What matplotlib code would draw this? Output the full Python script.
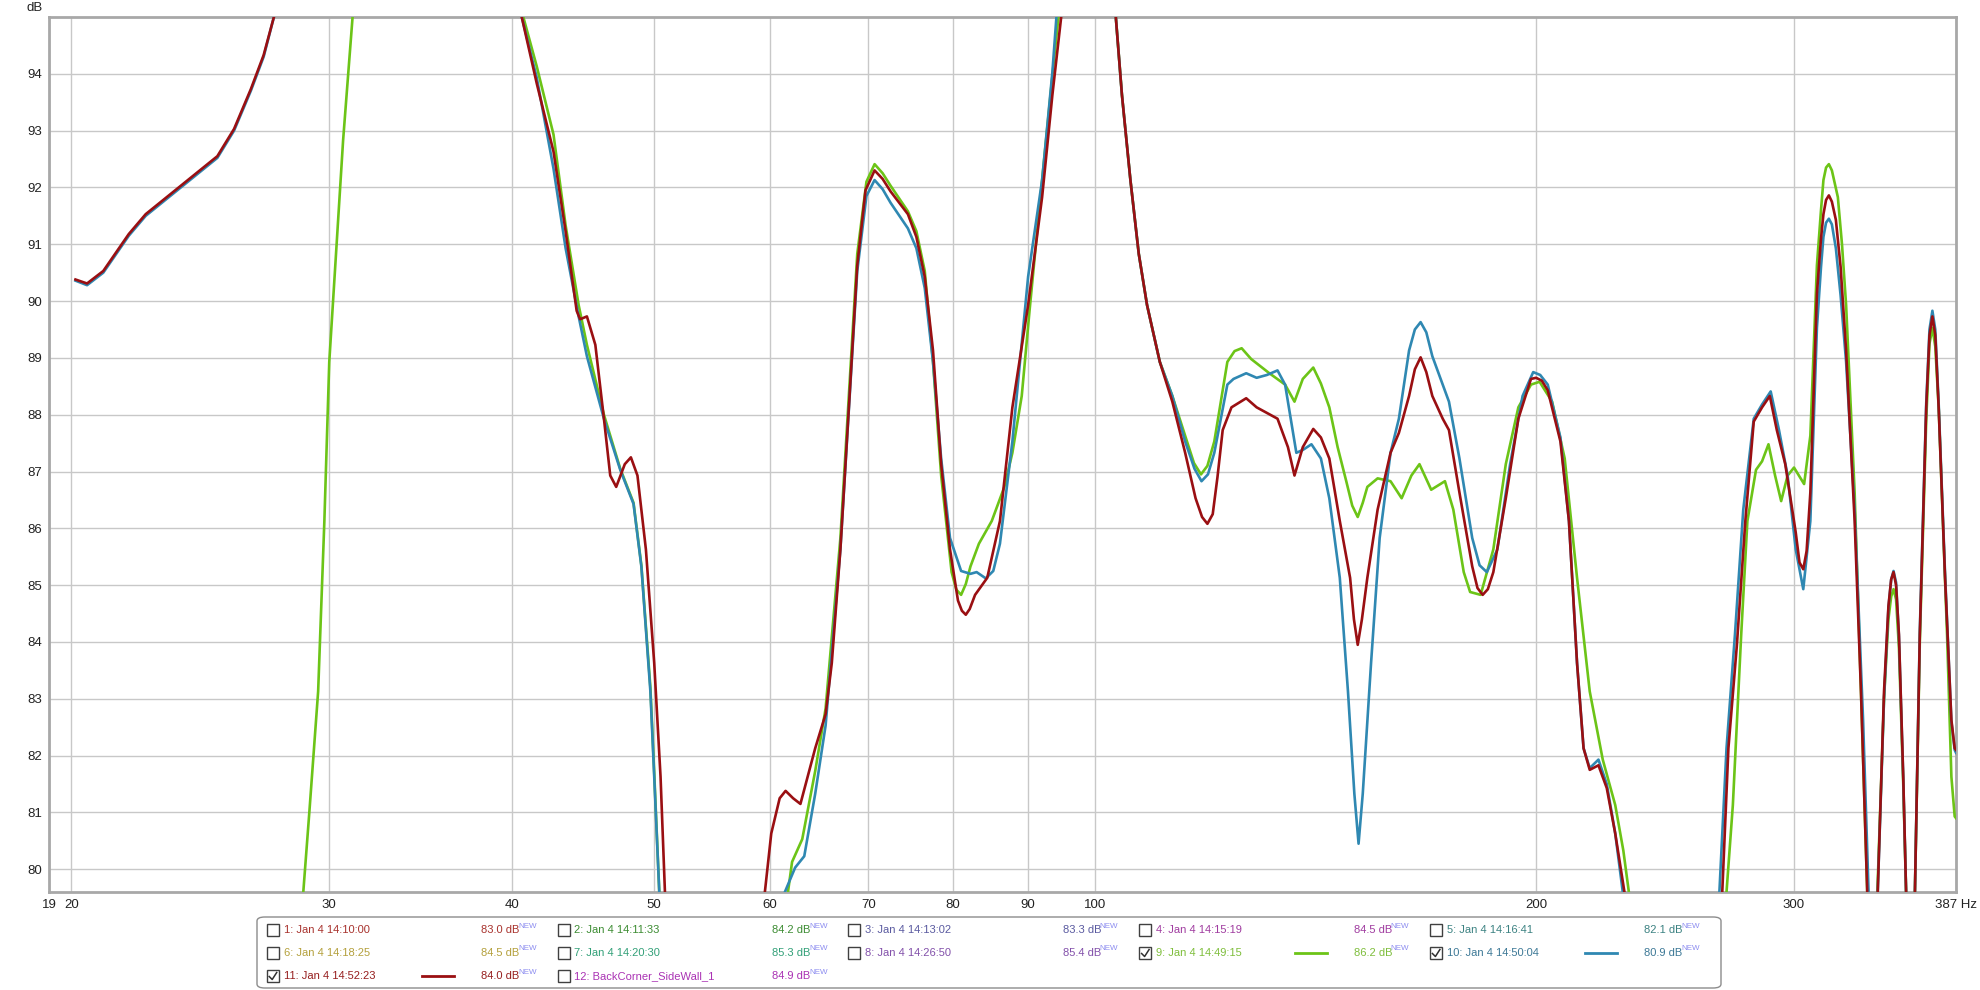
import matplotlib
matplotlib.use("Agg")
import matplotlib.pyplot as plt
from matplotlib.patches import Rectangle, FancyBboxPatch
from matplotlib.lines import Line2D
from matplotlib.ticker import FixedLocator, NullLocator, FixedFormatter

plt.rcParams['font.family'] = ['Liberation Sans', 'DejaVu Sans']

# ---------------- data ----------------
# 9: Jan 4 14:49:15 (green)
f9 = [28.5, 28.8, 29.08, 29.48, 29.77, 30.0, 30.37, 30.66, 31.12, 31.5, 40.0,
      40.7, 41.57, 42.68, 43.5, 44.4, 44.98, 46.2, 47.4, 48.4, 49.0, 49.7, 50.0, 50.4, 50.8,
      61.3, 61.7, 62.1, 63.1, 64.4, 65.46, 67.0, 68.8, 69.8, 70.7, 71.6, 72.5, 74.5, 75.5, 76.5, 77.5,
      78.5, 79.8, 80.4, 81.0, 81.6, 82.2, 83.3, 85.0, 86.7, 87.8, 89.1, 90.2, 92.0, 93.8, 94.4, 95.0, 102.0,
      103.3, 104.3, 105.7, 107.1, 108.5, 110.7, 112.9, 115.2, 116.8, 118.1, 119.3, 120.6, 123.1, 124.5, 125.9,
      127.8, 131.5, 134.8, 136.8, 138.6, 140.9, 142.6, 144.5, 146.4, 148.4, 149.8, 151.1, 152.3, 153.4,
      155.9, 159.1, 161.9, 164.4, 166.5, 169.6, 173.3, 175.6, 178.5, 180.3, 183.3, 187.0,
      190.7, 194.5, 198.4, 201.1, 205.1, 209.2, 213.3, 217.6, 222.1, 226.5, 229.4, 231.4,
      232.5, 268.5, 269.8, 272.5, 276.1, 278.8, 282.6, 285.3, 288.2, 291.2, 294.0, 297.0,
      300.0, 304.8, 307.8, 311.0, 313.0, 314.2, 315.5, 316.9, 318.4, 321.4, 323.5, 325.6, 330.0, 333.3, 336.6, 338.0,
      341.0, 342.0, 345.6, 348.0, 349.5, 350.8, 352.2, 353.8, 356.2, 357.8, 359.0, 361.5, 362.8, 365.6,
      369.3, 371.2, 372.9, 374.6, 376.6, 381.6, 384.2, 386.2, 387.0]
db9 = [78.0, 79.6, 81.03, 83.13, 86.13, 88.93, 91.13, 92.83, 95.0, 96.5, 97.0,
       95.0, 94.13, 92.93, 91.33, 89.93, 89.23, 88.0, 87.05, 86.45, 85.35, 83.2, 81.7, 79.6, 78.0,
       78.0, 79.6, 80.13, 80.53, 81.73, 82.83, 85.83, 90.83, 92.1, 92.41, 92.25, 92.03, 91.58, 91.23, 90.53, 88.93,
       86.93, 85.23, 84.92, 84.83, 85.02, 85.33, 85.73, 86.13, 86.73, 87.33, 88.33, 89.83, 92.13, 94.33, 95.0, 96.5, 97.0,
       95.0, 93.63, 92.13, 90.83, 89.93, 88.93, 88.33, 87.63, 87.15, 86.95, 87.1, 87.53, 88.93, 89.12, 89.17,
       88.98, 88.73, 88.53, 88.23, 88.63, 88.83, 88.55, 88.13, 87.43, 86.83, 86.4, 86.2, 86.45, 86.73,
       86.88, 86.83, 86.53, 86.93, 87.13, 86.68, 86.83, 86.33, 85.23, 84.88, 84.83, 85.63,
       87.13, 88.13, 88.53, 88.58, 88.23, 87.23, 85.13, 83.13, 81.93, 81.13, 80.33, 79.6,
       78.5, 78.5, 79.6, 81.13, 84.13, 86.13, 87.03, 87.18, 87.48, 86.93, 86.48, 86.93,
       87.07, 86.78, 87.63, 90.63, 91.6, 92.13, 92.35, 92.41, 92.3, 91.83, 91.0, 89.93, 86.63, 83.13, 79.6, 78.0,
       78.0, 79.6, 83.0, 84.4, 84.8, 84.93, 84.75, 83.9, 81.5, 79.6, 78.0, 78.0, 79.6, 84.0,
       87.9, 89.25, 89.53, 89.2, 88.13, 84.13, 81.63, 80.93, 80.9]

# 10: Jan 4 14:50:04 (blue)
f10 = [20.13, 20.5, 21.03, 21.89, 22.48, 23.24, 24.02, 25.16, 25.83, 26.52, 27.06, 27.5, 29.0, 40.0,
       40.6, 41.57, 42.68, 43.5, 44.4, 44.98, 46.2, 47.4, 48.4, 49.0, 49.7, 50.0, 50.4, 50.8,
       61.0, 61.4, 62.4, 63.3, 64.4, 65.46, 67.0, 68.8, 69.8, 70.7, 71.6, 72.5, 74.5, 75.5, 76.5, 77.5, 78.5,
       79.6, 81.0, 82.2, 83.0, 84.2, 85.2, 86.1, 87.8, 90.0, 92.0, 93.5, 94.1, 95.0, 102.0,
       103.3, 104.3, 105.7, 107.1, 108.5, 110.7, 112.9, 115.2, 116.9, 118.2, 119.4, 120.6, 123.1, 124.3,
       126.8, 128.9, 131.0, 133.2, 134.8, 137.2, 138.6, 140.5, 142.6, 144.5, 146.9, 148.8,
       150.3, 151.3, 152.3, 154.3, 156.4, 159.1, 161.2, 163.8, 165.3, 166.8, 168.3, 169.9, 172.7, 174.4,
       177.3, 180.9, 183.0, 185.1, 188.2, 192.0, 195.8, 199.1, 201.3, 203.7, 207.8, 210.6, 213.3, 215.5,
       217.6, 220.6, 223.5, 226.5, 229.2, 230.5, 265.5, 266.8, 269.8, 273.4, 277.0, 281.6,
       285.3, 289.2, 293.0, 297.0, 300.8, 304.4, 307.8, 311.0, 313.0, 314.2, 315.5, 316.9, 318.4, 320.4, 322.8, 325.6,
       330.0, 334.4, 337.3, 338.5, 341.0, 342.2, 345.6, 348.0, 349.5, 350.8, 352.2, 353.8, 356.2, 357.8,
       359.0, 361.5, 362.8, 365.6, 369.3, 371.2, 372.9, 374.6, 376.6, 380.4, 384.2, 386.2, 387.0]
db10 = [90.36, 90.28, 90.5, 91.15, 91.5, 91.8, 92.1, 92.52, 93.0, 93.7, 94.3, 95.0, 97.0, 96.0,
        95.0, 93.93, 92.33, 90.93, 89.73, 89.03, 87.93, 87.03, 86.43, 85.33, 83.13, 81.63, 79.6, 78.0,
        78.0, 79.6, 80.03, 80.23, 81.33, 82.53, 85.63, 90.53, 91.85, 92.13, 91.97, 91.73, 91.28, 90.93, 90.23, 88.93, 87.23,
        85.83, 85.25, 85.2, 85.23, 85.12, 85.25, 85.73, 87.53, 90.43, 92.13, 94.03, 95.0, 96.5, 97.0,
        95.0, 93.63, 92.13, 90.83, 89.93, 88.93, 88.33, 87.53, 87.05, 86.83, 86.95, 87.33, 88.53, 88.63,
        88.73, 88.65, 88.7, 88.78, 88.53, 87.33, 87.38, 87.48, 87.23, 86.53, 85.13, 83.13,
        81.33, 80.45, 81.33, 83.63, 85.83, 87.33, 87.93, 89.13, 89.5, 89.63, 89.45, 89.03, 88.53, 88.23,
        87.23, 85.83, 85.35, 85.23, 85.63, 87.13, 88.33, 88.75, 88.7, 88.53, 87.6, 86.13, 83.63, 82.13,
        81.78, 81.93, 81.5, 80.63, 79.6, 78.5, 78.5, 79.6, 82.13, 84.13, 86.33, 87.93,
        88.18, 88.41, 87.73, 86.93, 85.63, 84.93, 86.13, 89.53, 90.6, 91.13, 91.38, 91.45, 91.35, 90.93, 90.1, 88.93,
        86.33, 82.63, 79.6, 78.0, 78.0, 79.6, 83.0, 84.6, 85.1, 85.25, 85.05, 84.1, 81.6, 79.6,
        78.0, 78.0, 79.6, 84.2, 88.2, 89.5, 89.83, 89.5, 88.2, 85.2, 82.6, 82.1, 82.05]

# 11: Jan 4 14:52:23 (dark red)
f11 = [20.13, 20.5, 21.03, 21.89, 22.48, 23.24, 24.02, 25.16, 25.83, 26.52, 27.06, 27.5, 29.0, 40.0,
       40.6, 41.57, 42.68, 43.5, 44.26, 44.5, 44.98, 45.58, 46.2, 46.66, 47.1, 47.74, 48.2, 48.7,
       49.35, 50.0, 50.5, 50.85, 51.2,
       59.0, 59.5, 60.1, 60.9, 61.47, 62.2, 62.92, 64.4, 65.46, 66.1, 67.0, 67.9, 68.8, 69.7, 70.7,
       71.6, 72.5, 74.5, 75.5, 76.5, 77.5, 78.5, 79.6, 80.6, 81.1, 81.6, 82.1, 82.8, 84.4, 86.1, 87.8, 90.0, 92.0,
       93.5, 94.8, 95.5, 102.0,
       103.3, 104.3, 105.7, 107.1, 108.5, 110.7, 112.9, 115.2, 117.1, 118.3, 119.3, 120.3, 121.2, 122.2, 123.9,
       126.8, 128.9, 133.2, 135.4, 136.8, 138.6, 140.9, 142.6, 144.5, 146.9, 149.3, 150.2, 151.1, 152.1, 153.4,
       155.9, 159.1, 161.2, 163.8, 165.3, 166.8, 168.3, 169.9, 172.7, 174.4, 177.3, 180.9, 182.4, 183.9, 185.4, 187.0, 190.7,
       194.5, 198.4, 200.0, 201.8, 203.7, 207.8, 210.6, 213.3, 215.5, 217.6, 220.6, 223.5, 226.5, 229.8,
       231.0, 266.0, 268.0, 270.6, 274.2, 277.9, 281.6, 285.3, 288.8, 292.0, 295.9, 300.8, 302.6, 304.4, 306.0,
       307.8, 311.0, 313.0, 314.2, 315.5, 316.9, 318.4, 320.4, 322.8, 325.6, 330.0, 333.3, 336.6, 338.0, 341.0, 342.2, 345.6,
       348.0, 349.5, 350.8, 352.2, 353.8, 356.2, 357.8, 359.0, 361.5, 362.8, 365.6, 369.3, 371.2, 372.9, 374.6, 376.6, 380.4,
       384.2, 386.2, 387.0]
db11 = [90.38, 90.31, 90.53, 91.18, 91.53, 91.83, 92.13, 92.55, 93.03, 93.73, 94.33, 95.0, 97.0, 96.0,
        95.0, 93.83, 92.63, 91.23, 89.83, 89.68, 89.73, 89.23, 87.93, 86.93, 86.73, 87.13, 87.25, 86.93,
        85.63, 83.63, 81.63, 79.6, 78.0,
        78.0, 79.6, 80.63, 81.25, 81.38, 81.25, 81.15, 82.13, 82.73, 83.63, 85.63, 88.13, 90.63, 91.95, 92.3,
        92.15, 91.93, 91.53, 91.13, 90.43, 89.13, 87.13, 85.63, 84.73, 84.55, 84.48, 84.58, 84.83, 85.13, 86.13, 88.13, 89.93, 91.83,
        93.63, 95.0, 96.0, 97.0,
        95.0, 93.63, 92.13, 90.83, 89.93, 88.93, 88.23, 87.33, 86.53, 86.2, 86.08, 86.25, 86.9, 87.73, 88.13,
        88.29, 88.13, 87.93, 87.43, 86.93, 87.43, 87.75, 87.6, 87.23, 86.13, 85.13, 84.4, 83.95, 84.4, 85.13,
        86.33, 87.33, 87.68, 88.33, 88.8, 89.01, 88.75, 88.33, 87.93, 87.73, 86.63, 85.33, 84.95, 84.83, 84.93, 85.23, 86.53,
        87.93, 88.63, 88.65, 88.6, 88.43, 87.53, 86.13, 83.63, 82.13, 81.75, 81.83, 81.43, 80.63, 79.6,
        78.5, 78.5, 79.6, 82.13, 83.93, 86.13, 87.88, 88.13, 88.33, 87.73, 87.13, 85.93, 85.4, 85.28, 85.6,
        86.63, 90.13, 91.1, 91.53, 91.78, 91.86, 91.75, 91.43, 90.6, 89.13, 86.13, 83.13, 79.6, 78.0, 78.0, 79.6, 83.13,
        84.63, 85.1, 85.23, 85.0, 84.13, 81.63, 79.6, 78.0, 78.0, 79.6, 84.13, 88.13, 89.4, 89.73, 89.4, 88.13, 85.13,
        82.63, 82.13, 82.1]

# legend entries
leg_labels = ["1: Jan 4 14:10:00", "2: Jan 4 14:11:33", "3: Jan 4 14:13:02", "4: Jan 4 14:15:19",
              "5: Jan 4 14:16:41", "6: Jan 4 14:18:25", "7: Jan 4 14:20:30", "8: Jan 4 14:26:50",
              "9: Jan 4 14:49:15", "10: Jan 4 14:50:04", "11: Jan 4 14:52:23",
              "12: BackCorner_SideWall_1"]
leg_values = ["83.0", "84.2", "83.3", "84.5", "82.1", "84.5", "85.3", "85.4", "86.2", "80.9",
              "84.0", "84.9"]
leg_colors = ["#a8322d", "#3c8c32", "#5a5aa0", "#a03ca0", "#3c8282", "#b4a03c", "#32a078",
              "#8250aa", "#7fbe3c", "#3c7896", "#961e1e", "#aa32b4"]
leg_checked = [False, False, False, False, False, False, False, False, True, True, True, False]

curve_colors = {"9": "#6cc417", "10": "#2f88b2", "11": "#9a0f12"}

x_ticks = [19.31, 20, 30, 40, 50, 60, 70, 80, 90, 100, 200, 300, 387]
x_ticklabels = ["19", "20", "30", "40", "50", "60", "70", "80", "90", "100", "200", "300", "387 Hz"]
y_ticks = list(range(80, 95))

# ---------------- figure ----------------
W, H = 1980, 990
fig = plt.figure(figsize=(W / 100, H / 100), dpi=100)
fig.patch.set_facecolor("white")

def fx(x):
    return x / W

def fy(y):
    return 1 - y / H

L, R, T, B = 49, 1956, 17, 892
ax = fig.add_axes([fx(L), fy(B), fx(R) - fx(L), fy(T) - fy(B)])
ax.set_xscale("log")
ax.set_xlim(19.31, 387)
ax.set_ylim(79.6, 95.0)

ax.plot(f9, db9, color=curve_colors["9"], lw=1.9, solid_joinstyle="round", zorder=3)
ax.plot(f10, db10, color=curve_colors["10"], lw=1.9, solid_joinstyle="round", zorder=4)
ax.plot(f11, db11, color=curve_colors["11"], lw=1.9, solid_joinstyle="round", zorder=5)

ax.xaxis.set_major_locator(FixedLocator(x_ticks))
ax.xaxis.set_major_formatter(FixedFormatter(x_ticklabels))
ax.xaxis.set_minor_locator(NullLocator())
ax.set_yticks(y_ticks)
ax.yaxis.set_minor_locator(NullLocator())
ax.grid(True, which="major", color="#c8c8c8", lw=1.0, zorder=0)
ax.set_axisbelow(True)
ax.tick_params(axis="both", length=0, labelsize=9.5, colors="#222222")
ax.tick_params(axis="x", pad=5)
ax.tick_params(axis="y", pad=5)
for s in ax.spines.values():
    s.set_color("#a8a8a8")
    s.set_linewidth(2.0)

fig.text(fx(35), fy(8), "dB", ha="center", va="center", fontsize=9.5, color="#222222")

# ---------------- legend box ----------------
box = FancyBboxPatch((fx(257), fy(988)), fx(1721) - fx(257), fy(917) - fy(988),
                     boxstyle="round,pad=0,rounding_size=0.004", transform=fig.transFigure,
                     facecolor="white", edgecolor="#8c8c8c", lw=1.0)
fig.add_artist(box)

col0, col_dx = 266.7, 290.8
row0, row_dy = 930.0, 23.0
line_colors = {8: curve_colors["9"], 9: curve_colors["10"], 10: curve_colors["11"]}
for i, (lab, val, col, chk) in enumerate(zip(leg_labels, leg_values, leg_colors, leg_checked)):
    r, c = divmod(i, 5)
    cx = col0 + c * col_dx
    cy = row0 + r * row_dy
    fig.add_artist(Rectangle((fx(cx), fy(cy + 6)), fx(12), 12 / H, transform=fig.transFigure,
                             facecolor="white", edgecolor="#404040", lw=1.0))
    if chk:
        fig.add_artist(Line2D([fx(cx + 2.5), fx(cx + 5.5), fx(cx + 10)],
                              [fy(cy + 0.5), fy(cy + 3.5), fy(cy - 3.5)],
                              transform=fig.transFigure, color="#303030", lw=1.1))
    fig.text(fx(cx + 17), fy(cy), lab, ha="left", va="center", fontsize=8, color=col)
    if i in line_colors:
        fig.add_artist(Line2D([fx(cx + 155.5), fx(cx + 187.5)], [fy(cy), fy(cy)],
                              transform=fig.transFigure, color=line_colors[i], lw=2.0))
    fig.text(fx(cx + 214.5), fy(cy), val + " dB", ha="left", va="center", fontsize=8, color=col)
    fig.text(fx(cx + 251.5), fy(cy - 4), "NEW", ha="left", va="center", fontsize=5.8,
             color="#8c8cf0")

fig.savefig("out.png", dpi=100, facecolor="white")
